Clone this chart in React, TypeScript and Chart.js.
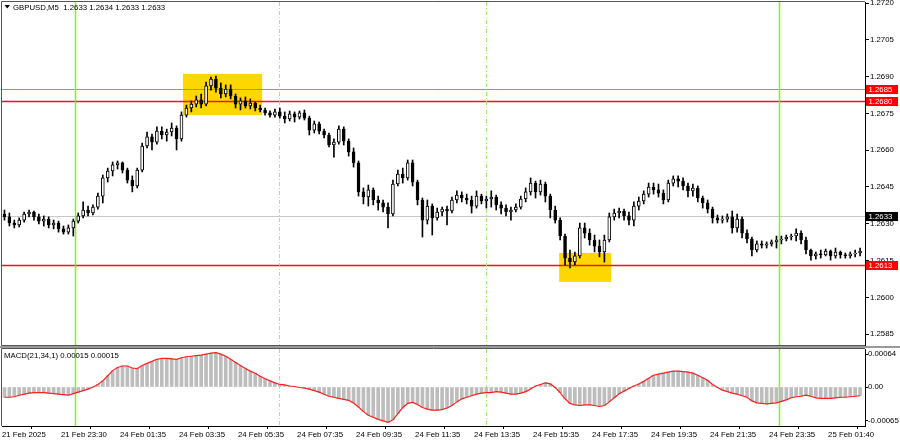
import React, { useEffect, useRef } from 'react';
import { Chart, registerables } from 'chart.js';
Chart.register(...registerables);

// ---- DATA (10-minute candles) ----
const OPENS = [
  1.26340,1.26328,1.26303,1.26295,1.26315,1.26340,1.26348,1.26328,1.26311,1.26319,
  1.26295,1.26303,1.26279,1.26266,1.26283,1.26311,1.26332,1.26356,1.26344,1.26368,
  1.26413,1.26487,1.26515,1.26540,1.26548,1.26519,1.26478,1.26454,1.26519,1.26617,
  1.26654,1.26633,1.26678,1.26662,1.26674,1.26690,1.26646,1.26743,1.26772,1.26788,
  1.26805,1.26788,1.26862,1.26890,1.26853,1.26829,1.26849,1.26821,1.26788,1.26801,
  1.26780,1.26792,1.26772,1.26764,1.26752,1.26743,1.26756,1.26739,1.26727,1.26748,
  1.26735,1.26752,1.26731,1.26682,1.26707,1.26678,1.26662,1.26621,1.26633,1.26686,
  1.26637,1.26593,1.26548,1.26430,1.26409,1.26438,1.26397,1.26385,1.26368,1.26340,
  1.26462,1.26503,1.26487,1.26548,1.26470,1.26397,1.26315,1.26372,1.26324,1.26348,
  1.26360,1.26352,1.26397,1.26417,1.26405,1.26397,1.26372,1.26413,1.26393,1.26401,
  1.26409,1.26377,1.26364,1.26348,1.26356,1.26368,1.26401,1.26430,1.26466,1.26430,
  1.26462,1.26413,1.26356,1.26315,1.26250,1.26160,1.26144,1.26169,1.26283,1.26262,
  1.26234,1.26209,1.26185,1.26234,1.26328,1.26344,1.26352,1.26332,1.26315,1.26372,
  1.26393,1.26421,1.26450,1.26438,1.26425,1.26397,1.26466,1.26483,1.26474,1.26454,
  1.26434,1.26446,1.26405,1.26385,1.26360,1.26324,1.26315,1.26319,1.26328,1.26283,
  1.26319,1.26262,1.26238,1.26193,1.26218,1.26213,1.26218,1.26226,1.26234,1.26238,
  1.26246,1.26250,1.26262,1.26234,1.26193,1.26169,1.26177,1.26173,1.26189,1.26169,
  1.26185,1.26173,1.26169,1.26177,1.26181,
];
const HIGHS = [
  1.26356,1.26344,1.26315,1.26324,1.26348,1.26356,1.26352,1.26340,1.26332,1.26328,
  1.26315,1.26311,1.26291,1.26295,1.26319,1.26344,1.26389,1.26372,1.26377,1.26425,
  1.26499,1.26527,1.26552,1.26556,1.26552,1.26527,1.26495,1.26527,1.26629,1.26674,
  1.26666,1.26695,1.26695,1.26686,1.26711,1.26699,1.26756,1.26784,1.26801,1.26821,
  1.26829,1.26878,1.26898,1.26902,1.26874,1.26866,1.26866,1.26829,1.26813,1.26817,
  1.26809,1.26796,1.26784,1.26772,1.26760,1.26768,1.26772,1.26756,1.26760,1.26756,
  1.26760,1.26764,1.26739,1.26719,1.26715,1.26686,1.26670,1.26646,1.26699,1.26695,
  1.26646,1.26609,1.26556,1.26446,1.26458,1.26446,1.26413,1.26397,1.26385,1.26478,
  1.26519,1.26527,1.26560,1.26560,1.26478,1.26405,1.26397,1.26381,1.26364,1.26368,
  1.26372,1.26409,1.26434,1.26430,1.26421,1.26413,1.26434,1.26421,1.26413,1.26434,
  1.26417,1.26389,1.26377,1.26368,1.26381,1.26413,1.26446,1.26487,1.26474,1.26478,
  1.26470,1.26421,1.26372,1.26324,1.26258,1.26193,1.26185,1.26303,1.26303,1.26279,
  1.26254,1.26234,1.26254,1.26344,1.26360,1.26364,1.26360,1.26348,1.26389,1.26409,
  1.26434,1.26466,1.26466,1.26462,1.26438,1.26478,1.26495,1.26495,1.26487,1.26466,
  1.26462,1.26454,1.26413,1.26397,1.26368,1.26336,1.26332,1.26340,1.26352,1.26340,
  1.26328,1.26275,1.26246,1.26230,1.26230,1.26226,1.26234,1.26250,1.26250,1.26254,
  1.26258,1.26279,1.26271,1.26246,1.26197,1.26185,1.26193,1.26197,1.26193,1.26201,
  1.26189,1.26181,1.26185,1.26193,1.26201,
];
const LOWS = [
  1.26315,1.26291,1.26283,1.26287,1.26307,1.26328,1.26315,1.26299,1.26291,1.26283,
  1.26279,1.26266,1.26258,1.26258,1.26250,1.26303,1.26324,1.26332,1.26336,1.26360,
  1.26385,1.26470,1.26495,1.26523,1.26507,1.26466,1.26430,1.26446,1.26511,1.26609,
  1.26601,1.26625,1.26646,1.26637,1.26658,1.26601,1.26637,1.26735,1.26756,1.26776,
  1.26772,1.26780,1.26845,1.26837,1.26813,1.26817,1.26809,1.26772,1.26764,1.26772,
  1.26768,1.26760,1.26756,1.26743,1.26735,1.26735,1.26731,1.26711,1.26719,1.26715,
  1.26727,1.26723,1.26662,1.26670,1.26666,1.26650,1.26613,1.26572,1.26625,1.26621,
  1.26576,1.26531,1.26413,1.26381,1.26372,1.26377,1.26356,1.26348,1.26283,1.26332,
  1.26454,1.26466,1.26478,1.26454,1.26377,1.26246,1.26299,1.26254,1.26315,1.26332,
  1.26295,1.26344,1.26385,1.26389,1.26381,1.26344,1.26364,1.26381,1.26364,1.26368,
  1.26356,1.26340,1.26332,1.26315,1.26348,1.26360,1.26389,1.26417,1.26405,1.26417,
  1.26389,1.26324,1.26303,1.26234,1.26132,1.26120,1.26132,1.26160,1.26242,1.26213,
  1.26185,1.26165,1.26144,1.26226,1.26315,1.26324,1.26315,1.26295,1.26291,1.26356,
  1.26381,1.26409,1.26421,1.26409,1.26381,1.26389,1.26454,1.26450,1.26438,1.26409,
  1.26413,1.26389,1.26364,1.26344,1.26303,1.26303,1.26303,1.26307,1.26262,1.26266,
  1.26242,1.26222,1.26169,1.26185,1.26201,1.26201,1.26209,1.26201,1.26218,1.26230,
  1.26234,1.26230,1.26218,1.26177,1.26152,1.26156,1.26160,1.26169,1.26152,1.26160,
  1.26160,1.26160,1.26160,1.26165,1.26169,
];
const CLOSES = [
  1.26328,1.26303,1.26295,1.26315,1.26340,1.26348,1.26328,1.26311,1.26319,1.26295,
  1.26303,1.26279,1.26266,1.26283,1.26311,1.26332,1.26356,1.26344,1.26368,1.26413,
  1.26487,1.26515,1.26540,1.26548,1.26519,1.26478,1.26454,1.26519,1.26617,1.26654,
  1.26633,1.26678,1.26662,1.26674,1.26690,1.26646,1.26743,1.26772,1.26788,1.26805,
  1.26788,1.26862,1.26890,1.26853,1.26829,1.26849,1.26821,1.26788,1.26801,1.26780,
  1.26792,1.26772,1.26764,1.26752,1.26743,1.26756,1.26739,1.26727,1.26748,1.26735,
  1.26752,1.26731,1.26682,1.26707,1.26678,1.26662,1.26621,1.26633,1.26686,1.26637,
  1.26593,1.26548,1.26430,1.26409,1.26438,1.26397,1.26385,1.26368,1.26340,1.26462,
  1.26503,1.26487,1.26548,1.26470,1.26397,1.26315,1.26372,1.26324,1.26348,1.26360,
  1.26352,1.26397,1.26417,1.26405,1.26397,1.26372,1.26413,1.26393,1.26401,1.26409,
  1.26377,1.26364,1.26348,1.26356,1.26368,1.26401,1.26430,1.26466,1.26430,1.26462,
  1.26413,1.26356,1.26315,1.26250,1.26160,1.26144,1.26169,1.26283,1.26262,1.26234,
  1.26209,1.26185,1.26234,1.26328,1.26344,1.26352,1.26332,1.26315,1.26372,1.26393,
  1.26421,1.26450,1.26438,1.26425,1.26397,1.26466,1.26483,1.26474,1.26454,1.26434,
  1.26446,1.26405,1.26385,1.26360,1.26324,1.26315,1.26319,1.26328,1.26283,1.26319,
  1.26262,1.26238,1.26193,1.26218,1.26213,1.26218,1.26226,1.26234,1.26238,1.26246,
  1.26250,1.26262,1.26234,1.26193,1.26169,1.26177,1.26173,1.26189,1.26169,1.26185,
  1.26173,1.26169,1.26177,1.26181,1.26189,
];
const MACD = [
  -0.00020,-0.00020,-0.00019,-0.00016,-0.00014,-0.00012,-0.00011,-0.00011,-0.00011,-0.00012,
  -0.00013,-0.00014,-0.00015,-0.00016,-0.00013,-0.00010,-0.00007,-0.00004,0.00000,0.00005,
  0.00012,0.00022,0.00032,0.00038,0.00041,0.00041,0.00037,0.00036,0.00042,0.00046,
  0.00050,0.00054,0.00056,0.00056,0.00055,0.00054,0.00057,0.00059,0.00060,0.00061,
  0.00062,0.00064,0.00066,0.00067,0.00064,0.00060,0.00054,0.00048,0.00042,0.00036,
  0.00031,0.00027,0.00021,0.00016,0.00012,0.00008,0.00005,0.00004,0.00002,0.00001,
  -0.00001,-0.00002,-0.00004,-0.00007,-0.00010,-0.00014,-0.00018,-0.00020,-0.00022,-0.00024,
  -0.00026,-0.00031,-0.00039,-0.00048,-0.00055,-0.00059,-0.00063,-0.00066,-0.00069,-0.00064,
  -0.00052,-0.00040,-0.00032,-0.00030,-0.00034,-0.00040,-0.00043,-0.00045,-0.00045,-0.00044,
  -0.00041,-0.00036,-0.00029,-0.00023,-0.00020,-0.00017,-0.00014,-0.00012,-0.00011,-0.00011,
  -0.00009,-0.00010,-0.00012,-0.00014,-0.00014,-0.00012,-0.00009,-0.00004,0.00002,0.00005,
  0.00008,0.00006,-0.00001,-0.00011,-0.00023,-0.00032,-0.00035,-0.00036,-0.00035,-0.00035,
  -0.00036,-0.00038,-0.00036,-0.00029,-0.00021,-0.00013,-0.00008,-0.00003,0.00002,0.00006,
  0.00011,0.00017,0.00023,0.00025,0.00027,0.00029,0.00031,0.00031,0.00030,0.00029,
  0.00027,0.00023,0.00018,0.00013,0.00005,-0.00001,-0.00006,-0.00009,-0.00012,-0.00014,
  -0.00017,-0.00020,-0.00027,-0.00031,-0.00032,-0.00033,-0.00032,-0.00031,-0.00028,-0.00025,
  -0.00021,-0.00019,-0.00018,-0.00016,-0.00018,-0.00021,-0.00022,-0.00022,-0.00022,-0.00021,
  -0.00020,-0.00020,-0.00019,-0.00018,-0.00017,
];

const TIME_LABELS = [
  '21 Feb 2025', '21 Feb 23:30', '24 Feb 01:35', '24 Feb 03:35', '24 Feb 05:35',
  '24 Feb 07:35', '24 Feb 09:35', '24 Feb 11:35', '24 Feb 13:35', '24 Feb 15:35',
  '24 Feb 17:35', '24 Feb 19:35', '24 Feb 21:35', '24 Feb 23:35', '25 Feb 01:40',
];
const TIME_LABEL_BARS = [0, 24, 48, 72, 96, 120, 144, 168, 192, 216, 240, 264, 288, 312, 336];
const PRICE_TICKS = [1.2720, 1.2705, 1.2690, 1.2675, 1.2660, 1.2645, 1.2630, 1.2615, 1.2600, 1.2585];
const MACD_TICKS = [0.00064, 0, -0.00065];
const LEVEL_PRICES = [1.2685, 1.2680, 1.2633, 1.2613];
const ZONE_START_BARS = [73.6, 226.6];
const ZONE_END_BARS = [105.8, 247.8];
const ZONE_TOPS = [1.26911, 1.26181];
const ZONE_BOTTOMS = [1.26743, 1.26063];
const VLINE_BARS = [29.7, 112.7, 196.9, 316.1];
const TITLE = 'GBPUSD,M5  1.2633 1.2634 1.2633 1.2633';
const MACD_TITLE = 'MACD(21,34,1) 0.00015 0.00015';

// ---- STYLE ----
const FONT = '"Liberation Sans", Arial, sans-serif';
const FONT_SIZE = 7.8;
const LEVEL_LINE_COLORS = ['#ff6868', '#ff1010', '#c8c8c8', '#ff1010'];
const LEVEL_LINE_WIDTHS = [1, 1.6, 1, 1.6];
const LEVEL_BOX_COLORS = ['#ff0000', '#ff0000', '#000000', '#ff0000'];
const VLINE_COLORS = ['#7cfc00', '#a6ee6a', '#a6ee6a', '#7cfc00'];
const VLINE_WIDTHS = [1.5, 1, 1, 1.5];
const VLINE_DASHES = [[], [4, 2, 1, 2], [4, 2, 1, 2], []];
const BAR_SPAN = 351;

function drawVLines(ctx: CanvasRenderingContext2D, x: any, top: number, bottom: number) {
  VLINE_BARS.forEach((b, i) => {
    const px = Math.round(x.getPixelForValue(b)) + 0.5;
    ctx.save();
    ctx.strokeStyle = VLINE_COLORS[i];
    ctx.lineWidth = VLINE_WIDTHS[i];
    ctx.setLineDash(VLINE_DASHES[i]);
    ctx.beginPath();
    ctx.moveTo(px, top);
    ctx.lineTo(px, bottom);
    ctx.stroke();
    ctx.restore();
  });
}

const noPad = (s: any) => {
  s.paddingTop = 0;
  s.paddingBottom = 0;
  s.paddingLeft = 0;
  s.paddingRight = 0;
};

export default function App() {
  const mainRef = useRef<HTMLCanvasElement>(null);
  const macdRef = useRef<HTMLCanvasElement>(null);

  useEffect(() => {
    document.body.style.margin = '0';
    const candleX = (k: number) => 2 * k + 1;

    const mainOverlay = {
      id: 'mainOverlay',
      beforeDatasetsDraw(chart: any) {
        const { ctx, chartArea: a, scales } = chart;
        const x = scales.x, y = scales.y;
        ctx.save();
        ctx.beginPath();
        ctx.rect(a.left, a.top, a.right - a.left, a.bottom - a.top);
        ctx.clip();
        ctx.fillStyle = '#ffd700';
        ZONE_START_BARS.forEach((b0, i) => {
          const x0 = x.getPixelForValue(b0);
          const x1 = x.getPixelForValue(ZONE_END_BARS[i]);
          const y0 = y.getPixelForValue(ZONE_TOPS[i]);
          const y1 = y.getPixelForValue(ZONE_BOTTOMS[i]);
          ctx.fillRect(x0, y0, x1 - x0, y1 - y0);
        });
        LEVEL_PRICES.forEach((p, i) => {
          const py = Math.round(y.getPixelForValue(p)) + 0.5;
          ctx.strokeStyle = LEVEL_LINE_COLORS[i];
          ctx.lineWidth = LEVEL_LINE_WIDTHS[i];
          ctx.beginPath();
          ctx.moveTo(a.left, py);
          ctx.lineTo(a.right, py);
          ctx.stroke();
        });
        drawVLines(ctx, x, a.top, a.bottom);
        ctx.restore();
      },
      afterDraw(chart: any) {
        const { ctx, chartArea: a, scales } = chart;
        const y = scales.y;
        ctx.save();
        ctx.strokeStyle = '#555555';
        ctx.lineWidth = 1;
        ctx.beginPath();
        ctx.moveTo(a.left - 0.5, a.bottom + 0.5);
        ctx.lineTo(a.left - 0.5, a.top - 0.5);
        ctx.lineTo(a.right, a.top - 0.5);
        ctx.moveTo(a.left - 0.5, a.bottom + 0.5);
        ctx.lineTo(a.right, a.bottom + 0.5);
        ctx.stroke();
        ctx.font = `${FONT_SIZE}px ${FONT}`;
        ctx.textBaseline = 'middle';
        ctx.textAlign = 'left';
        LEVEL_PRICES.forEach((p, i) => {
          const py = Math.round(y.getPixelForValue(p));
          ctx.fillStyle = LEVEL_BOX_COLORS[i];
          ctx.fillRect(a.right + 1, py - 4, 32, 9);
          ctx.fillStyle = '#ffffff';
          ctx.fillText(p.toFixed(4), a.right + 3.5, py + 0.5);
        });
        ctx.fillStyle = '#000000';
        ctx.beginPath();
        ctx.moveTo(4.5, 5);
        ctx.lineTo(10, 5);
        ctx.lineTo(7.25, 8.5);
        ctx.closePath();
        ctx.fill();
        ctx.fillText(TITLE, 13, 7.5);
        ctx.restore();
      },
    };

    const main = new Chart(mainRef.current as HTMLCanvasElement, {
      type: 'bar',
      data: {
        datasets: [
          {
            label: 'body',
            data: CLOSES.map((c, k) => ({ x: candleX(k), y: [OPENS[k], c] })),
            backgroundColor: CLOSES.map((c, k) => (c >= OPENS[k] ? '#ffffff' : '#000000')),
            borderColor: '#000000',
            borderWidth: 1,
            borderSkipped: false,
            barThickness: 3,
            grouped: false,
          } as any,
          {
            label: 'wick',
            data: HIGHS.map((h, k) => ({ x: candleX(k), y: [LOWS[k], h] })),
            backgroundColor: '#000000',
            barThickness: 1,
            grouped: false,
          } as any,
        ],
      },
      options: {
        animation: false,
        responsive: false,
        layout: { padding: { left: 2, top: 2, right: 0, bottom: 1 } },
        plugins: { legend: { display: false }, tooltip: { enabled: false } },
        scales: {
          x: { type: 'linear', min: 0, max: BAR_SPAN, display: false, offset: false },
          y: {
            position: 'right',
            min: 1.258058,
            max: 1.272041,
            afterBuildTicks: (s: any) => { s.ticks = PRICE_TICKS.map((v) => ({ value: v })); },
            afterFit: (s: any) => { s.width = 35; noPad(s); },
            grid: { drawOnChartArea: false, color: '#000000', tickLength: 4 },
            border: { color: '#000000' },
            ticks: {
              color: '#000000',
              padding: 1,
              font: { family: FONT, size: FONT_SIZE },
              callback: (v: any) => Number(v).toFixed(4),
            },
          },
        },
      } as any,
      plugins: [mainOverlay],
    });

    const macdOverlay = {
      id: 'macdOverlay',
      beforeDraw(chart: any) {
        const { ctx } = chart;
        ctx.save();
        ctx.fillStyle = '#9a9a9a';
        ctx.fillRect(0, 0, chart.width, 2);
        ctx.restore();
      },
      beforeDatasetsDraw(chart: any) {
        const { ctx, chartArea: a, scales } = chart;
        ctx.save();
        drawVLines(ctx, scales.x, a.top, a.bottom);
        ctx.restore();
      },
      afterDraw(chart: any) {
        const { ctx, chartArea: a } = chart;
        ctx.save();
        ctx.strokeStyle = '#555555';
        ctx.lineWidth = 1;
        ctx.beginPath();
        ctx.moveTo(a.left - 0.5, a.bottom);
        ctx.lineTo(a.left - 0.5, a.top - 0.5);
        ctx.lineTo(a.right, a.top - 0.5);
        ctx.stroke();
        ctx.fillStyle = '#000000';
        ctx.font = `${FONT_SIZE}px ${FONT}`;
        ctx.textBaseline = 'middle';
        ctx.textAlign = 'left';
        ctx.fillText(MACD_TITLE, 4, 9.5);
        ctx.restore();
      },
    };

    const macd = new Chart(macdRef.current as HTMLCanvasElement, {
      type: 'bar',
      data: {
        datasets: [
          {
            type: 'line',
            label: 'signal',
            data: MACD.map((v, k) => ({ x: candleX(k), y: v })),
            borderColor: '#ff2020',
            borderWidth: 1.2,
            pointRadius: 0,
            tension: 0,
          } as any,
          {
            type: 'bar',
            label: 'macd',
            data: MACD.map((v, k) => ({ x: candleX(k), y: v })),
            backgroundColor: '#bdbdbd',
            barThickness: 3,
            grouped: false,
          } as any,
        ],
      },
      options: {
        animation: false,
        responsive: false,
        layout: { padding: { left: 2, top: 3, right: 0, bottom: 0 } },
        plugins: { legend: { display: false }, tooltip: { enabled: false } },
        scales: {
          x: {
            type: 'linear',
            min: 0,
            max: BAR_SPAN,
            offset: false,
            position: 'bottom',
            afterBuildTicks: (s: any) => { s.ticks = TIME_LABEL_BARS.map((v) => ({ value: v })); },
            afterFit: (s: any) => { s.height = 15; noPad(s); },
            grid: { drawOnChartArea: false, color: '#000000', tickLength: 3 },
            border: { color: '#000000' },
            ticks: {
              align: 'start',
              maxRotation: 0,
              autoSkip: false,
              padding: 1,
              color: '#000000',
              font: { family: FONT, size: FONT_SIZE },
              callback: (_v: any, i: number) => TIME_LABELS[i],
            },
          },
          y: {
            position: 'right',
            min: -0.00076,
            max: 0.000741,
            afterBuildTicks: (s: any) => { s.ticks = MACD_TICKS.map((v) => ({ value: v })); },
            afterFit: (s: any) => { s.width = 35; noPad(s); },
            grid: { drawOnChartArea: false, color: '#000000', tickLength: 3 },
            border: { color: '#000000' },
            ticks: {
              color: '#000000',
              padding: 0,
              font: { family: FONT, size: FONT_SIZE },
              callback: (v: any) => (Number(v) === 0 ? '0.00' : Number(v).toFixed(5)),
            },
          },
        },
      } as any,
      plugins: [macdOverlay],
    });

    return () => {
      main.destroy();
      macd.destroy();
    };
  }, []);

  return (
    <div style={{ position: 'fixed', left: 0, top: 0, width: 900, height: 441, background: '#ffffff' }}>
      <canvas
        ref={mainRef}
        width={900}
        height={346}
        style={{ position: 'absolute', left: 0, top: 0, width: 900, height: 346, display: 'block' }}
      />
      <canvas
        ref={macdRef}
        width={900}
        height={95}
        style={{ position: 'absolute', left: 0, top: 346, width: 900, height: 95, display: 'block' }}
      />
    </div>
  );
}
